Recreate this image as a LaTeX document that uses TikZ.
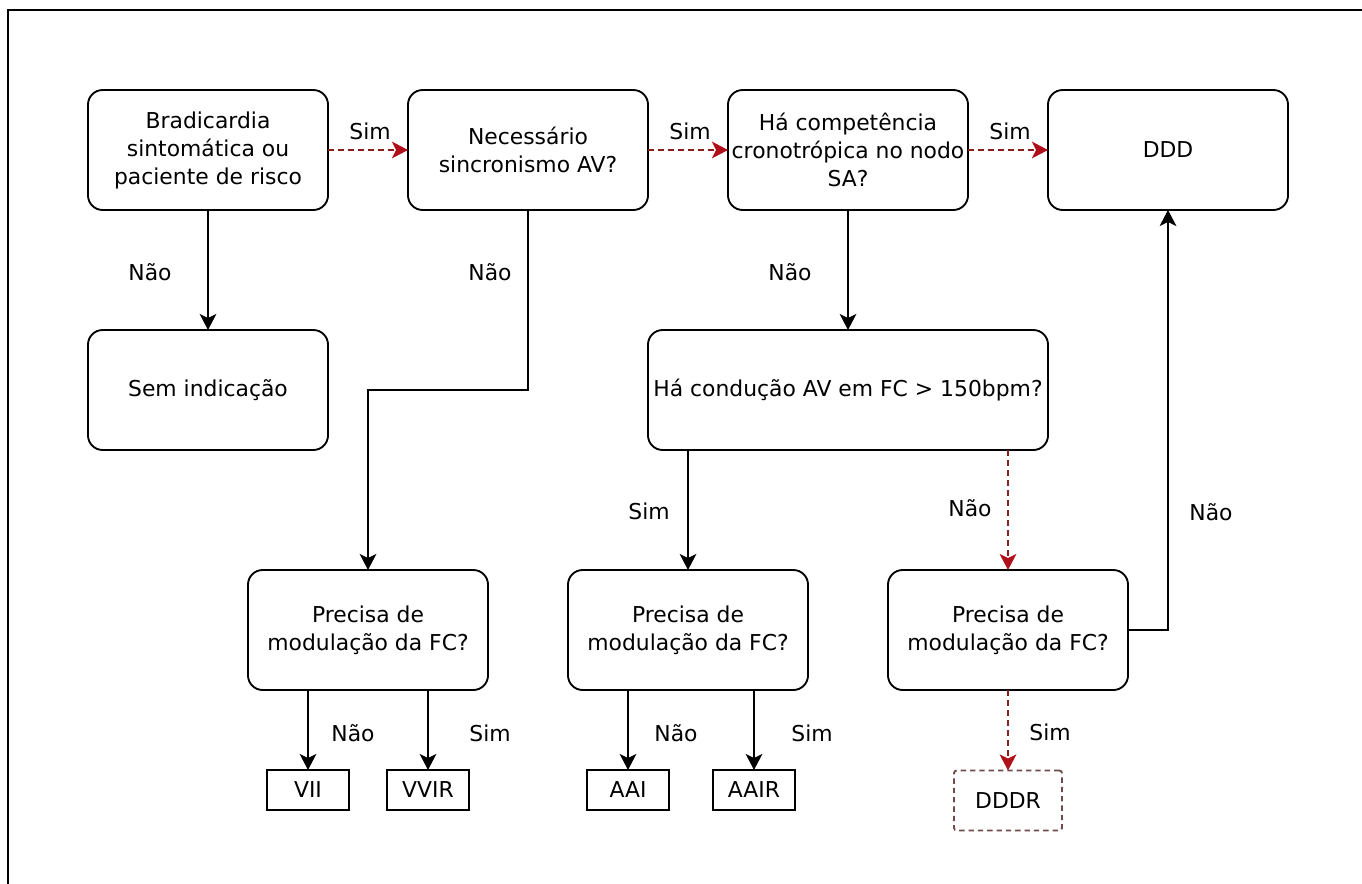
\documentclass[tikz,border=0pt]{standalone}
\usepackage{fontspec}
\setmainfont{DejaVu Sans}
\usetikzlibrary{arrows.meta}

\definecolor{dashline}{HTML}{8A1C1C}
\definecolor{tipred}{HTML}{B0101A}
\definecolor{dddrline}{HTML}{6E4A4A}

\tikzset{
  box/.style={draw, line width=1.4pt, rounded corners=11pt, align=center,
    minimum width=180pt, minimum height=90pt, inner sep=0pt, outer sep=0pt,
    font=\fontsize{16.4}{21}\selectfont},
  widebox/.style={box, minimum width=300pt},
  modebox/.style={draw, line width=1.4pt, align=center,
    minimum width=61pt, minimum height=30pt, inner sep=0pt, outer sep=0pt,
    font=\fontsize{16.4}{21}\selectfont},
  dashbox/.style={modebox, draw=dddrline, dash pattern=on 4pt off 3pt,
    rounded corners=2pt, minimum width=81pt, minimum height=45pt},
  lbl/.style={font=\fontsize{16.4}{21}\selectfont, inner sep=0pt},
  flow/.style={line width=1.2pt, -{Stealth[length=12pt, width=12.5pt, inset=3pt]}},
  yesflow/.style={line width=1.2pt, draw=dashline, dash pattern=on 4.5pt off 3pt,
    -{Stealth[length=12pt, width=12.5pt, inset=3pt, color=tipred]}},
}

\begin{document}
\begin{tikzpicture}[x=0.75pt, y=-0.75pt]
\useasboundingbox (0,0) rectangle (1362,884);
\fill[white] (0,0) rectangle (1362,884);

% frame (left and top edges)
\draw[line width=1.5pt] (8,884) -- (8,10) -- (1362,10);

% decision boxes
\node[box] (brad) at (208,150) {Bradicardia\\sintomática ou\\paciente de risco};
\node[box] (sinc) at (528,150) {Necessário\\sincronismo AV?};
\node[box] (comp) at (848,150) {Há competência\\cronotrópica no nodo\\SA?};
\node[box] (ddd)  at (1168,150) {DDD};
\node[box] (sem)  at (208,390) {Sem indicação};
\node[widebox] (cond) at (848,390) {Há condução AV em FC > 150bpm?};
\node[box] (modv) at (368,630) {Precisa de\\modulação da FC?};
\node[box] (moda) at (688,630) {Precisa de\\modulação da FC?};
\node[box] (modd) at (1008,630) {Precisa de\\modulação da FC?};

% pacing modes
\node[modebox] (vii)  at (308,790) {VII};
\node[modebox] (vvir) at (428,790) {VVIR};
\node[modebox] (aai)  at (628,790) {AAI};
\node[modebox] (aair) at (754,790) {AAIR};
\node[dashbox] (dddr) at (1008,800.5) {DDDR};

% bend point for the "Não" branch of the AV synchrony question
\coordinate (sincbend) at (448,390);

% connectors
\draw[yesflow] (brad) -- (sinc);
\draw[yesflow] (sinc) -- (comp);
\draw[yesflow] (comp) -- (ddd);
\draw[flow] (brad) -- (sem);
\draw[flow] (sinc.south) |- (sincbend) -| (modv.north);
\draw[flow] (comp) -- (cond);
\draw[flow] (cond.south -| moda.north) -- (moda.north);
\draw[yesflow] (cond.south -| modd.north) -- (modd.north);
\draw[flow] (modd.east) -| (ddd.south);
\draw[flow] (modv.south -| vii.north) -- (vii.north);
\draw[flow] (modv.south -| vvir.north) -- (vvir.north);
\draw[flow] (moda.south -| aai.north) -- (aai.north);
\draw[flow] (moda.south -| aair.north) -- (aair.north);
\draw[yesflow] (modd.south) -- (dddr.north);

% branch labels
\node[lbl] (l1)  at (370,131) {Sim};
\node[lbl] (l2)  at (690,131) {Sim};
\node[lbl] (l3)  at (1010,131) {Sim};
\node[lbl] (l4)  at (150,272) {Não};
\node[lbl] (l5)  at (490,272) {Não};
\node[lbl] (l6)  at (790,272) {Não};
\node[lbl] (l7)  at (649,511) {Sim};
\node[lbl] (l8)  at (970,508) {Não};
\node[lbl] (l9)  at (1211,512) {Não};
\node[lbl] (l10) at (353,733) {Não};
\node[lbl] (l11) at (490,733) {Sim};
\node[lbl] (l12) at (676,733) {Não};
\node[lbl] (l13) at (812,733) {Sim};
\node[lbl] (l14) at (1050,732) {Sim};
\end{tikzpicture}
\end{document}
